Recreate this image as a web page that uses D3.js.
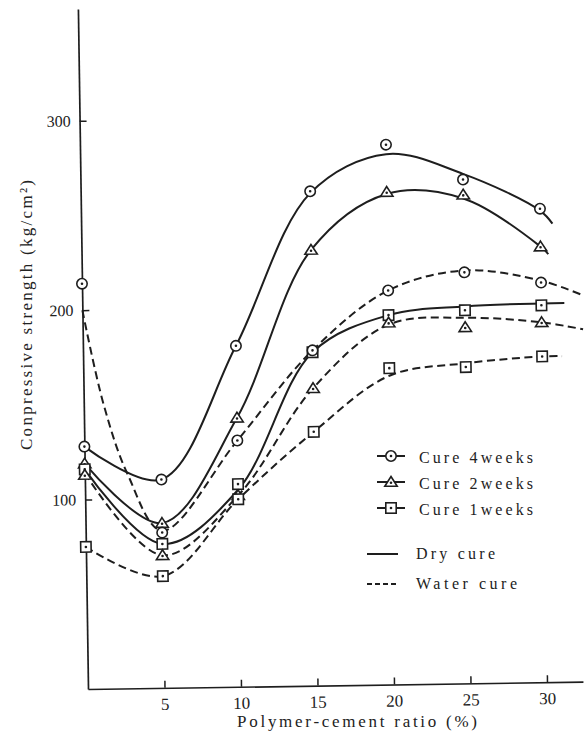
<!DOCTYPE html>
<html><head><meta charset="utf-8">
<script src="https://cdn.jsdelivr.net/npm/d3@7"></script>
<style>body{margin:0;background:#fff} svg{display:block}</style>
</head><body>
<svg id="c" width="587" height="743"></svg>
<script>
// ---- data ----
const ratio   = [0, 5, 10, 15, 20, 25, 30];
const dry4w   = [128, 110, 180, 261, 285, 266, 250];
const dry2w   = [119, 87, 142, 230, 260, 258, 230];
const dry1w   = [116, 76, 107, 176, 195, 197, 199];
const water4w = [214, 82, 130, 177, 208, 217, 211];
const water2w = [113, 70, 101, 157, 191, 188, 190];
const water1w = [75, 59, 99, 134, 167, 167, 172];
// hand-fitted curves as drawn in the picture: [ratio, strength]
const dry4wCurve   = [[0,128],[5,110],[10,180],[15,260],[20,280],[25,269],[30,249],[30.8,242]];
const dry2wCurve   = [[0,119],[5,87],[10,142],[15,230],[20,259],[25,256],[30,230],[30.5,226]];
const dry1wCurve   = [[0,116],[5,76],[10,104],[15,176],[20,195],[25,199],[30,200],[31.5,200]];
const water4wCurve = [[0,200],[1.3,150],[2.8,113],[5,83],[10,130],[15,177],[20,208],[25,218],[30,212],[32.7,204]];
const water2wCurve = [[0,114],[5,70],[10,101],[15,157],[20,190],[25,193],[30,190],[32.7,186]];
const water1wCurve = [[0,75],[5,59],[10,99],[15,134],[20,163],[25,169],[30,172],[31.3,172]];
const xTicks = [5, 10, 15, 20, 25, 30];
const yTicks = [100, 200, 300];
const legendCure = ["Cure 4weeks", "Cure 2weeks", "Cure 1weeks"];
const legendCureShapes = ["circle", "triangle", "square"];
const legendLine = ["Dry cure", "Water cure"];
const xTitle = "Polymer-cement ratio (%)";
const yTitle = "Conpressive strength (kg/cm²)";

const series = [
  {vals: dry4w,   curve: dry4wCurve,   shape: "circle",   dashed: false},
  {vals: dry2w,   curve: dry2wCurve,   shape: "triangle", dashed: false},
  {vals: dry1w,   curve: dry1wCurve,   shape: "square",   dashed: false},
  {vals: water4w, curve: water4wCurve, shape: "circle",   dashed: true},
  {vals: water2w, curve: water2wCurve, shape: "triangle", dashed: true},
  {vals: water1w, curve: water1wCurve, shape: "square",   dashed: true}
];

const INK = "#1e1e1e";
const FONT = "'Liberation Serif', 'Times New Roman', serif";
const svg = d3.select("#c");

const x = d3.scaleLinear().domain([0, 32.35]).range([88, 583]);
const y = d3.scaleLinear().domain([0, 359]).range([689, 9]);

// the scanned figure is slightly rotated
const plot = svg.append("g").attr("transform", "rotate(-0.85, 88, 689)");

// axes
const xAxis = d3.axisBottom(x).tickValues(xTicks).tickSizeInner(-7).tickSizeOuter(0).tickPadding(10);
const yAxis = d3.axisLeft(y).tickValues(yTicks).tickSizeInner(-7).tickSizeOuter(0).tickPadding(9);
const gx = plot.append("g").attr("transform", `translate(0,${y(0)})`).call(xAxis);
const gy = plot.append("g").attr("transform", `translate(${x(0)},0)`).call(yAxis);
[gx, gy].forEach(g => {
  g.select(".domain").attr("stroke", INK).attr("stroke-width", 1.7);
  g.selectAll(".tick line").attr("stroke", INK).attr("stroke-width", 1.5);
  g.selectAll(".tick text").attr("fill", "#222").attr("font-family", FONT);
});
gx.selectAll(".tick text").attr("font-size", 17);
gy.selectAll(".tick text").attr("font-size", 16);

// curves
const line = d3.line().x(d => x(d[0])).y(d => y(d[1])).curve(d3.curveCatmullRom.alpha(0.5));
plot.append("g").selectAll("path").data(series).join("path")
  .attr("d", s => line(s.curve))
  .attr("fill", "none").attr("stroke", INK).attr("stroke-width", 2)
  .attr("stroke-dasharray", s => s.dashed ? "8,4.5" : null);

// markers
function drawMarker(g, shape, cx, cy) {
  const st = {fill: "#fff", stroke: INK, "stroke-width": 1.6};
  let m;
  if (shape === "circle") m = g.append("circle").attr("cx", cx).attr("cy", cy).attr("r", 5.2);
  else if (shape === "square") m = g.append("rect").attr("x", cx - 5.2).attr("y", cy - 5.2).attr("width", 10.4).attr("height", 10.4);
  else m = g.append("path").attr("d", `M${cx},${cy - 5.5}L${cx + 6.2},${cy + 4.2}L${cx - 6.2},${cy + 4.2}Z`);
  Object.entries(st).forEach(([k, v]) => m.attr(k, v));
  g.append("circle").attr("cx", cx).attr("cy", shape === "triangle" ? cy + 0.7 : cy).attr("r", 1.3).attr("fill", INK);
}
const mg = plot.append("g");
series.forEach(s => {
  s.vals.forEach((v, i) => { if (v != null) drawMarker(mg, s.shape, x(ratio[i]), y(v)); });
});

// axis titles
svg.append("text").attr("x", 237).attr("y", 727)
  .attr("font-family", FONT).attr("font-size", 17).attr("fill", "#222")
  .attr("textLength", 240).attr("lengthAdjust", "spacing").text(xTitle);
svg.append("text").attr("transform", "translate(32,315) rotate(-90)")
  .attr("text-anchor", "middle")
  .attr("font-family", FONT).attr("font-size", 17).attr("fill", "#222")
  .attr("textLength", 270).attr("lengthAdjust", "spacing").text(yTitle);

// legend
const lg = svg.append("g");
const cureY = [456, 482, 508];
legendCure.forEach((t, i) => {
  lg.append("line").attr("x1", 377).attr("x2", 405).attr("y1", cureY[i]).attr("y2", cureY[i])
    .attr("stroke", INK).attr("stroke-width", 2);
  drawMarker(lg, legendCureShapes[i], 391, cureY[i]);
  lg.append("text").attr("x", 419).attr("y", cureY[i] + 6.5)
    .attr("font-family", FONT).attr("font-size", 16).attr("fill", "#222")
    .attr("textLength", 114).attr("lengthAdjust", "spacing").text(t);
});
const lineY = [554, 584];
const lineLen = [79, 101];
legendLine.forEach((t, i) => {
  lg.append("line").attr("x1", 367).attr("x2", 398).attr("y1", lineY[i]).attr("y2", lineY[i])
    .attr("stroke", INK).attr("stroke-width", 2)
    .attr("stroke-dasharray", i === 1 ? "5,3" : null);
  lg.append("text").attr("x", 416).attr("y", lineY[i] + 5)
    .attr("font-family", FONT).attr("font-size", 16).attr("fill", "#222")
    .attr("textLength", lineLen[i]).attr("lengthAdjust", "spacing").text(t);
});
</script>
</body></html>
